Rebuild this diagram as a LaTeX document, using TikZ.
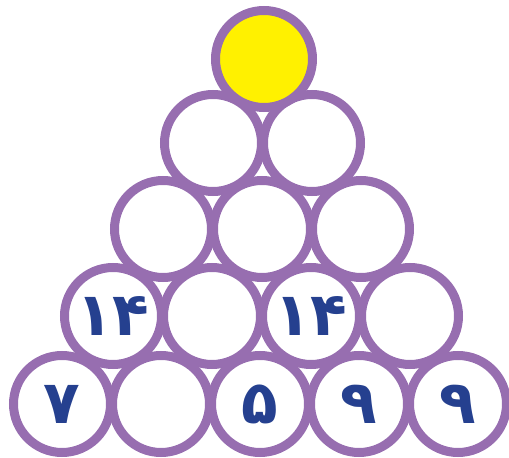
\documentclass[tikz,border=0pt]{standalone}
\usepackage{fontspec}
\newfontfamily\persianfont[Script=Arabic]{DejaVu Sans}
\definecolor{ringPurple}{RGB}{151,110,176}
\definecolor{ballYellow}{RGB}{255,241,0}
\definecolor{digitBlue}{RGB}{37,64,143}
\usetikzlibrary{positioning}

\begin{document}
\begin{tikzpicture}[x=1pt, y=1pt,
    ball/.style={circle, draw=ringPurple, line width=9pt, minimum size=97pt, inner sep=0pt,
                 font=\persianfont\bfseries\fontsize{60}{60}\selectfont, text=digitBlue}]
    \useasboundingbox (0,0) rectangle (509,458);

    % bottom row
    \node[ball] (b1) at (62,54) {۷};
    \node[ball] (b2) at (161,54) {};
    \node[ball] (b3) at (260,54) {۵};
    \node[ball] (b4) at (359,54) {۹};
    \node[ball] (b5) at (458,54) {۹};

    % fourth row
    \node[ball] (d1) at (113,142) {۱۴};
    \node[ball] (d2) at (212,142) {};
    \node[ball] (d3) at (311,142) {۱۴};
    \node[ball] (d4) at (410,142) {};

    % third row
    \node[ball] (c1) at (163,229) {};
    \node[ball] (c2) at (262,229) {};
    \node[ball] (c3) at (361,229) {};

    % second row
    \node[ball] (s1) at (213,315) {};
    \node[ball] (s2) at (312,315) {};

    % top ball
    \node[ball, fill=ballYellow] (t) at (264,399) {};
\end{tikzpicture}
\end{document}
